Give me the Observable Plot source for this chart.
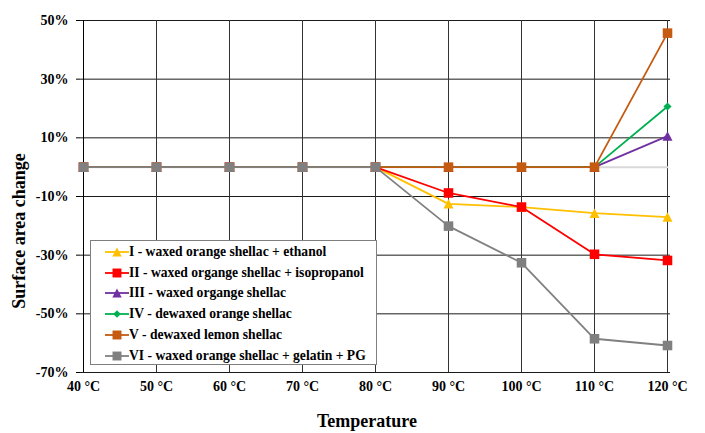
<!DOCTYPE html>
<html>
<head>
<meta charset="utf-8">
<script src="https://cdn.jsdelivr.net/npm/d3@7"></script>
<script src="https://cdn.jsdelivr.net/npm/@observablehq/plot@0.6"></script>
<style>
  body { margin: 0; background: #fff; }
  #wrap { position: relative; width: 705px; height: 433px; font-family: "Liberation Serif", "Times New Roman", serif; }
  #legend { position: absolute; left: 90px; top: 240px; width: 287px; height: 125px; border: 1px solid #7f7f7f; background: #fff; box-sizing: border-box; }
  .row { position: absolute; left: 13px; height: 16px; display: flex; align-items: center; font-weight: bold; font-size: 13.6px; color: #000; white-space: nowrap; }
</style>
</head>
<body>
<div id="wrap"><div id="chart"></div><div id="legend"></div></div>
<script>
const temps = ["40 °C", "50 °C", "60 °C", "70 °C", "80 °C", "90 °C", "100 °C", "110 °C", "120 °C"];
const yTicks = [-70, -50, -30, -10, 10, 30, 50];

const seriesNames = [
  "I - waxed orange shellac + ethanol",
  "II - waxed organge shellac + isopropanol",
  "III - waxed organge shellac",
  "IV - dewaxed orange shellac",
  "V - dewaxed lemon shellac",
  "VI - waxed orange shellac + gelatin + PG"
];
const seriesColors = ["#FFC000", "#FF0000", "#7030A0", "#00B050", "#C55A11", "#808080"];
const seriesSymbols = ["triangle", "square", "triangle", "diamond", "square", "square"];

const valuesI   = [0, 0, 0, 0, 0, -12.5, -13.6, -15.7, -17.0];
const valuesII  = [0, 0, 0, 0, 0, -8.8, -13.6, -29.7, -31.8];
const valuesIII = [0, 0, 0, 0, 0, 0, 0, 0, 10.6];
const valuesIV  = [0, 0, 0, 0, 0, 0, 0, 0, 20.7];
const valuesV   = [0, 0, 0, 0, 0, 0, 0, 0, 45.7];
const valuesVI  = [0, 0, 0, 0, 0, -20.1, -32.6, -58.5, -60.8];
const hiddenBaseline = [0, 0, 0, 0, 0, 0, 0, 0, 0];

const allValues = [valuesI, valuesII, valuesIII, valuesIV, valuesV, valuesVI];

// Excel-like markers that fit inside the same box as the square
const boxTriangle = {draw(ctx, size) { const h = Math.sqrt(size) / 2; ctx.moveTo(0, -h); ctx.lineTo(h * 1.05, h); ctx.lineTo(-h * 1.05, h); ctx.closePath(); }};
const boxSquare = {draw(ctx, size) { const h = Math.sqrt(size) / 2; ctx.rect(-h, -h, 2 * h, 2 * h); }};
const boxDiamond = {draw(ctx, size) { const h = Math.sqrt(size) / 2 * 0.85; ctx.moveTo(0, -h); ctx.lineTo(h, 0); ctx.lineTo(0, h); ctx.lineTo(-h, 0); ctx.closePath(); }};
const symbolMap = {triangle: boxTriangle, square: boxSquare, diamond: boxDiamond};

const data = [];
allValues.forEach((vals, s) => {
  vals.forEach((v, i) => data.push({series: seriesNames[s], idx: s, temp: temps[i], value: v}));
});
const baseData = hiddenBaseline.map((v, i) => ({temp: temps[i], value: v}));

const marks = [
  Plot.gridY(yTicks, {stroke: "#1a1a1a", strokeOpacity: 1, strokeWidth: 1}),
  Plot.gridX(temps, {stroke: "#333", strokeOpacity: 1, strokeWidth: 1}),
  Plot.ruleX([temps[0]], {stroke: "#000", strokeWidth: 1}),
  Plot.line(baseData, {x: "temp", y: "value", stroke: "#d9d9d9", strokeWidth: 2}),
];
seriesNames.forEach((name, s) => {
  const d = data.filter(r => r.idx === s);
  marks.push(Plot.line(d, {x: "temp", y: "value", stroke: seriesColors[s], strokeWidth: 1.8}));
  marks.push(Plot.dot(d, {x: "temp", y: "value", symbol: () => symbolMap[seriesSymbols[s]], fill: seriesColors[s], stroke: "none", r: 5.4}));
});
marks.push(
  Plot.axisY({ticks: yTicks, tickFormat: d => d + "%", tickSize: 4, tickPadding: 8, fontSize: 14, fontWeight: "bold", label: null}),
  Plot.axisX({tickSize: 0, tickPadding: 9, fontSize: 14, fontWeight: "bold", label: null})
);

const chart = Plot.plot({
  width: 705,
  height: 433,
  marginLeft: 80,
  marginRight: 35,
  marginTop: 20,
  marginBottom: 61,
  style: {fontFamily: "'Liberation Serif', 'Times New Roman', serif", color: "#000", background: "#fff"},
  x: {type: "point", domain: temps, padding: 0},
  y: {domain: [-70, 50]},
  marks
});
document.getElementById("chart").appendChild(chart);

const svg = d3.select(chart);
svg.append("text")
  .attr("transform", "translate(21,231) rotate(-90)")
  .attr("text-anchor", "middle").attr("dominant-baseline", "middle")
  .attr("font-size", 18).attr("font-weight", "bold").attr("fill", "#000")
  .text("Surface area change");
svg.append("text")
  .attr("x", 367).attr("y", 423)
  .attr("text-anchor", "middle").attr("dominant-baseline", "middle")
  .attr("font-size", 18).attr("font-weight", "bold").attr("fill", "#000")
  .text("Temperature");

// legend
const legend = document.getElementById("legend");
seriesSymbols.forEach((sym, s) => {
  const row = document.createElement("div");
  row.className = "row";
  row.style.top = (3 + s * 20.7) + "px";
  const path = d3.symbol(symbolMap[sym], 80)();
  row.innerHTML = `<svg width="25" height="16"><line x1="1" x2="25" y1="8" y2="8" stroke="${seriesColors[s]}" stroke-width="1.8"/><path d="${path}" transform="translate(13,8)" fill="${seriesColors[s]}"/></svg><span>${seriesNames[s]}</span>`;
  legend.appendChild(row);
});
</script>
</body>
</html>
